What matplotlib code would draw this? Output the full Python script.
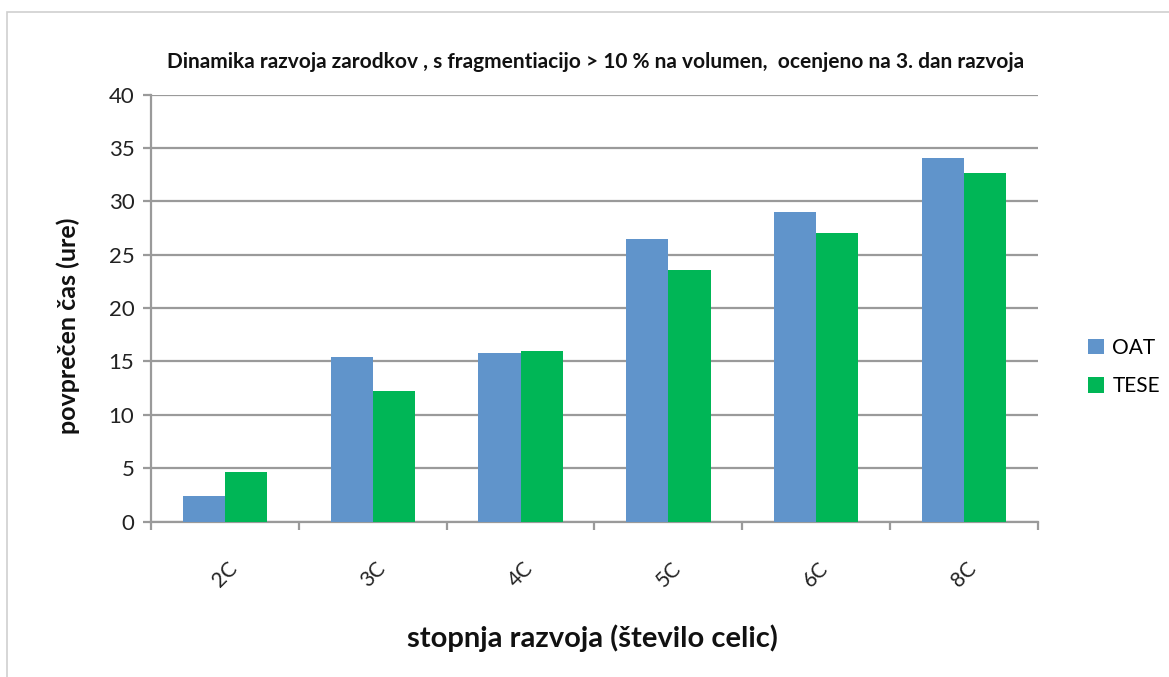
import numpy as np
import matplotlib

matplotlib.use("Agg")
import matplotlib.pyplot as plt
from matplotlib.patches import Rectangle

# Mean time (hours) to reach each cleavage stage, embryos with >10 % fragmentation
stages = ["2C", "3C", "4C", "5C", "6C", "8C"]
oat = [2.4, 15.4, 15.8, 26.5, 29.0, 34.1]
tese = [4.6, 12.2, 15.95, 23.6, 27.0, 32.7]
series_names = ["OAT", "TESE"]

title = "Dinamika razvoja zarodkov , s fragmentiacijo > 10 % na volumen,  ocenjeno na 3. dan razvoja"
xlabel = "stopnja razvoja (število celic)"
ylabel = "povprečen čas (ure)"

BLUE = "#6094cb"
GREEN = "#00b656"
GRID = "#9a9a9a"

plt.rcParams["font.family"] = ["Lato", "DejaVu Sans"]

W, H = 1169, 677
fig = plt.figure(figsize=(W / 100, H / 100), dpi=100)
fig.patch.set_facecolor("white")

# outer chart frame
fig.patches.append(Rectangle((7 / W, -0.1), 1.2, 1 - 12 / H + 0.1,
                             transform=fig.transFigure, fill=False,
                             edgecolor="#cfcfcf", lw=1.2))

ax = fig.add_axes([151 / W, 1 - 521.5 / H, (1038 - 151) / W, 426.8 / H])

x = np.arange(len(stages))
w = 1 / 3.5
b1 = ax.bar(x - w / 2, oat, w, color=BLUE, label=series_names[0], zorder=3)
b2 = ax.bar(x + w / 2, tese, w, color=GREEN, label=series_names[1], zorder=3)

ax.set_xlim(-0.5, len(stages) - 0.5)
ax.set_ylim(0, 40)
ax.set_yticks(np.arange(0, 41, 5))
ax.yaxis.grid(True, color=GRID, lw=1.6, zorder=0)
ax.set_axisbelow(True)

ax.set_xticks(x)
ax.set_xticklabels(stages, rotation=45, ha="center", va="center", fontsize=15)
ax.set_xticks(np.arange(-0.5, len(stages), 1), minor=True)
ax.tick_params(axis="x", which="major", length=0, pad=38)
ax.tick_params(axis="x", which="minor", length=6, width=1.6, color=GRID, direction="out")
ax.tick_params(axis="y", length=6, width=1.6, color=GRID, labelsize=16,
               labelcolor="#222222", pad=6)
ax.tick_params(axis="x", labelcolor="#222222")

for s in ("top", "right"):
    ax.spines[s].set_visible(False)
for s in ("left", "bottom"):
    ax.spines[s].set_color(GRID)
    ax.spines[s].set_linewidth(1.6)

fig.text(596 / W, 1 - 62 / H, title, ha="center", va="center",
         fontsize=15, fontweight="bold", color="#111111")
fig.text(68 / W, 1 - 326 / H, ylabel, ha="center", va="center", rotation=90,
         fontsize=18, fontweight="bold", color="#111111")
fig.text(592 / W, 1 - 638 / H, xlabel, ha="center", va="center",
         fontsize=21, fontweight="bold", color="#111111")

fig.legend(handles=[b1, b2], loc="center left",
           bbox_to_anchor=(1078 / W, 1 - 367 / H), frameon=False,
           fontsize=15, handlelength=0.75, handleheight=0.75,
           handletextpad=0.4, labelspacing=0.9, borderpad=0)

fig.savefig("out.png", dpi=100, facecolor="white")
